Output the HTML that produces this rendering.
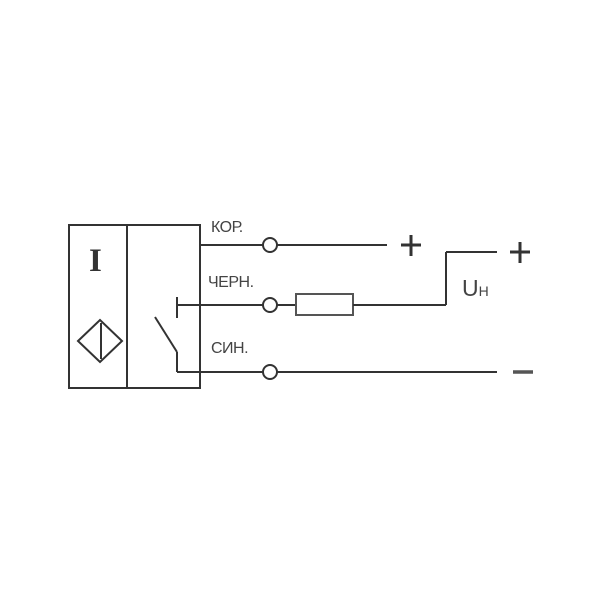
<!DOCTYPE html>
<html><head><meta charset="utf-8"><style>body{margin:0;background:#fff}</style></head>
<body>
<svg width="600" height="600" viewBox="0 0 600 600" xmlns="http://www.w3.org/2000/svg">
<g stroke="#333" stroke-width="2" fill="none">
<rect x="69" y="225" width="131" height="163"/>
<line x1="127" y1="225" x2="127" y2="388"/>
<polygon points="78,341 100,320 122,341 100,362"/>
<line x1="101" y1="323" x2="101" y2="359"/>
<line x1="200" y1="245" x2="263" y2="245"/>
<line x1="277" y1="245" x2="387" y2="245"/>
<circle cx="270" cy="245" r="7"/>
<line x1="177" y1="297" x2="177" y2="318"/>
<line x1="177" y1="305" x2="263" y2="305"/>
<circle cx="270" cy="305" r="7"/>
<line x1="277" y1="305" x2="296" y2="305"/>
<rect x="296" y="294" width="57" height="21" stroke="#555"/>
<line x1="353" y1="305" x2="446" y2="305"/>
<line x1="446" y1="305" x2="446" y2="252"/>
<line x1="446" y1="252" x2="497" y2="252"/>
<line x1="155" y1="317" x2="177" y2="352"/>
<line x1="177" y1="352" x2="177" y2="372"/>
<line x1="177" y1="372" x2="263" y2="372"/>
<circle cx="270" cy="372" r="7"/>
<line x1="277" y1="372" x2="497" y2="372"/>
<line x1="401" y1="245" x2="421" y2="245" stroke-width="3"/>
<line x1="411" y1="235" x2="411" y2="256" stroke-width="3"/>
<line x1="510" y1="252" x2="530" y2="252" stroke-width="3"/>
<line x1="520" y1="242" x2="520" y2="263" stroke-width="3"/>
<line x1="513" y1="372" x2="533" y2="372" stroke-width="3.5" stroke="#555"/>
</g>
<g font-family="Liberation Sans, sans-serif" fill="#444">
<text x="89" y="271" font-family="Liberation Serif, serif" font-size="33" font-weight="bold" fill="#333">I</text>
<text x="211" y="232" font-size="16" letter-spacing="-0.5">КОР.</text>
<text x="208" y="287" font-size="16" letter-spacing="-0.5">ЧЕРН.</text>
<text x="211" y="353" font-size="16" letter-spacing="-0.5">СИН.</text>
<text x="462" y="296" font-size="23">U<tspan font-size="14">Н</tspan></text>
</g>
</svg>
</body></html>
